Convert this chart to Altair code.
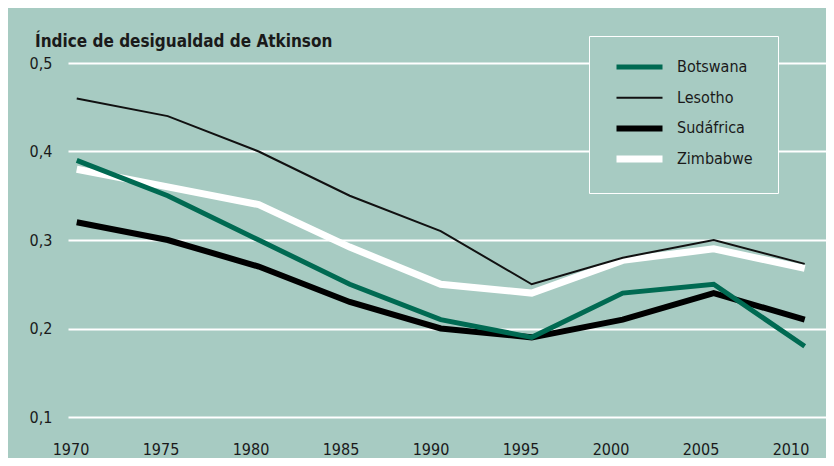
import altair as alt
import pandas as pd

years = [1970, 1975, 1980, 1985, 1990, 1995, 2000, 2005, 2010]
countries = ["Botswana", "Lesotho", "Sudáfrica", "Zimbabwe"]
botswana = [0.39, 0.35, 0.30, 0.25, 0.21, 0.19, 0.24, 0.25, 0.18]
lesotho = [0.46, 0.44, 0.40, 0.35, 0.31, 0.25, 0.28, 0.30, 0.273]
sudafrica = [0.32, 0.30, 0.27, 0.23, 0.20, 0.19, 0.21, 0.24, 0.21]
zimbabwe = [0.38, 0.36, 0.34, 0.292, 0.25, 0.24, 0.277, 0.29, 0.268]
y_ticks = [0.1, 0.2, 0.3, 0.4, 0.5]
title_text = "Índice de desigualdad de Atkinson"

colors = ["#006a52", "#111111", "#000000", "#ffffff"]
widths = [5, 2, 6, 7]
draw_order = ["Zimbabwe", "Sudáfrica", "Botswana", "Lesotho"]

BG = "#a7cbc2"
FONT = "DejaVu Sans Condensed"
INK = "#1a1a1a"

series = {"Botswana": botswana, "Lesotho": lesotho, "Sudáfrica": sudafrica, "Zimbabwe": zimbabwe}
rows = []
for name, vals in series.items():
    for yr, v in zip(years, vals):
        rows.append({"pais": name, "year": yr, "val": v})
df = pd.DataFrame(rows)

x_data = alt.X(
    "year:Q",
    scale=alt.Scale(domain=[1969.52, 2011.17], nice=False, zero=False),
    axis=None,
)
x_labels = alt.X(
    "year:Q",
    scale=alt.Scale(domain=[1969.861, 2011.972], nice=False, zero=False),
    axis=alt.Axis(values=years, format="d", title=None, grid=False, ticks=False, domain=False,
                  orient="bottom", labelFontSize=16, labelFont=FONT, labelColor=INK,
                  labelPadding=24, labelFlush=False, labelOverlap=False, labelBaseline="top"),
)
y_enc = alt.Y(
    "val:Q",
    scale=alt.Scale(domain=[0.1, 0.5], nice=False, zero=False),
    axis=alt.Axis(values=y_ticks, labelExpr="replace(format(datum.value, '.1f'), '.', ',')",
                  title=None, grid=True, gridColor="white", gridWidth=2, ticks=False, domain=False,
                  labelFontSize=16, labelFont=FONT, labelColor=INK, labelPadding=16),
)

def make_legend():
    return alt.Legend(orient="none", legendX=521, legendY=-27, title=None, symbolType="stroke",
                      symbolSize=2116, clipHeight=12, labelFontSize=16, labelFont=FONT,
                      labelColor=INK, padding=25, rowPadding=14.7, labelOffset=11,
                      symbolOffset=-1, strokeColor="white", fillColor=BG, symbolOpacity=1)

color_enc = alt.Color("pais:N", scale=alt.Scale(domain=countries, range=colors), legend=make_legend())
sw_enc = alt.StrokeWidth("pais:N", scale=alt.Scale(type="ordinal", domain=countries, range=widths),
                         legend=make_legend())

layers = []
for name in draw_order:
    layers.append(
        alt.Chart(df).transform_filter(alt.datum.pais == name).mark_line().encode(
            x=x_data, y=y_enc, color=color_enc, strokeWidth=sw_enc
        )
    )
label_layer = alt.Chart(df).mark_point(opacity=0).encode(x=x_labels, y=y_enc)

chart = alt.layer(*layers, label_layer).resolve_scale(x="independent").properties(
    width=758,
    height=354,
    autosize=alt.AutoSizeParams(type="none"),
    padding={"left": 60, "top": 55, "right": 0, "bottom": 41},
    background=BG,
    title=alt.TitleParams(title_text, anchor="start", frame="group", fontSize=17, font=FONT,
                          fontWeight="bold", color=INK, dx=-33, dy=29, offset=14),
).configure_view(stroke=None)

chart.save("out.html", embed_options={"renderer": "svg", "actions": False})
